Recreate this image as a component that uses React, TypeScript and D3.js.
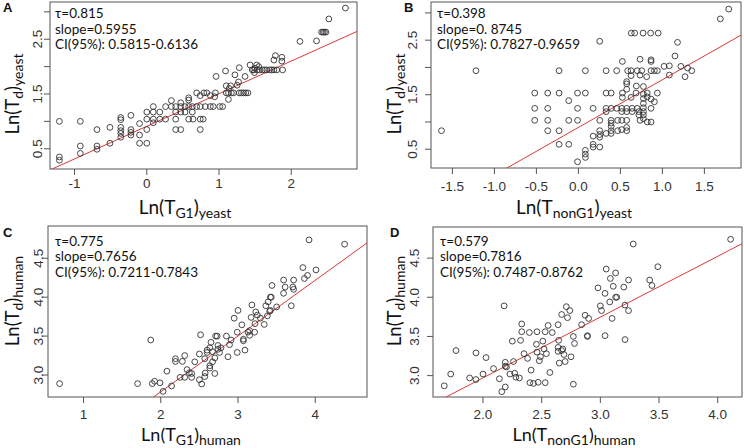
import React from "react";
import * as d3 from "d3";

// ---------- DATA ----------
const yeastG1Points: [number, number][] = [
  [-1.21,1.0],[-1.21,0.35],[-1.21,0.29],
  [-0.92,1.0],[-0.92,0.55],[-0.92,0.415],
  [-0.69,0.85],[-0.69,0.55],[-0.69,0.49],
  [-0.51,0.89],[-0.51,0.6],
  [-0.36,1.07],[-0.36,1.03],[-0.36,0.89],[-0.36,0.83],[-0.36,0.78],[-0.36,0.71],
  [-0.22,1.11],[-0.22,0.85],[-0.22,0.8],[-0.22,0.75],
  [-0.1,0.96],[-0.1,0.75],[-0.1,0.6],
  [0,1.17],[0,1.04],[0,0.85],[0,0.6],
  [0.09,1.27],[0.09,1.17],[0.09,1.04],[0.09,0.975],
  [0.18,1.04],[0.18,1.17],
  [0.26,1.27],[0.26,1.04],
  [0.34,1.38],[0.34,1.27],
  [0.4,1.27],[0.4,1.17],[0.4,1.04],[0.4,0.85],
  [0.47,1.34],[0.47,1.27],[0.47,1.17],[0.47,0.85],
  [0.53,1.27],[0.53,1.17],
  [0.58,1.43],[0.58,1.39],[0.58,1.27],[0.58,1.04],
  [0.63,1.27],[0.63,1.17],[0.64,1.04],
  [0.69,1.27],[0.69,1.52],
  [0.74,1.04],[0.74,0.85],[0.74,1.47],[0.74,1.27],
  [0.78,1.04],[0.79,1.52],[0.81,1.27],
  [0.83,1.52],[0.88,1.27],
  [0.88,1.47],[0.92,1.27],
  [0.94,1.45],[0.95,1.52],
  [0.96,1.82],
  [1.01,1.27],[1.05,1.27],
  [1.09,1.92],[1.1,1.65],[1.1,1.52],[1.13,1.4],[1.13,1.52],[1.14,1.6],[1.16,1.65],[1.17,1.52],[1.2,1.52],
  [1.22,1.85],[1.25,1.66],[1.27,1.72],[1.28,1.98],
  [1.28,1.52],[1.31,1.52],[1.34,1.52],[1.37,1.52],[1.4,1.52],
  [1.36,1.82],
  [1.43,2.03],[1.46,1.94],[1.48,1.94],[1.49,1.89],[1.5,1.97],[1.52,2.03],[1.53,1.94],[1.55,2.0],
  [1.56,1.94],[1.6,1.94],[1.63,1.94],[1.66,1.94],[1.7,1.94],[1.73,1.94],[1.76,1.94],[1.8,1.94],
  [1.76,2.12],[1.78,2.2],[1.87,2.17],[1.87,2.1],[1.88,1.94],
  [2.12,2.46],[2.35,2.47],
  [2.42,2.63],[2.44,2.63],[2.46,2.63],[2.48,2.63],
  [2.52,2.87],[2.75,3.07],
];

const yeastNonG1Points: [number, number][] = [
  [-1.63,0.84],[-1.22,1.94],
  [-0.52,1.53],[-0.52,1.25],[-0.52,1.03],
  [-0.365,1.53],[-0.365,1.25],[-0.365,1.03],[-0.365,0.84],
  [-0.23,1.94],[-0.23,1.53],[-0.23,0.84],[-0.23,0.59],
  [-0.115,1.39],[-0.115,1.03],[-0.115,0.59],
  [-0.01,1.53],[-0.01,1.25],[-0.01,1.03],[-0.01,0.27],
  [0.083,1.94],[0.083,1.53],[0.083,0.48],[0.083,0.41],[0.083,0.35],
  [0.175,1.25],[0.175,0.74],[0.175,0.59],[0.175,0.54],
  [0.254,2.48],[0.254,1.03],[0.254,0.84],[0.254,0.77],[0.254,0.72],[0.254,0.54],
  [0.33,1.94],[0.33,1.53],[0.33,1.25],[0.33,1.19],[0.33,0.79],
  [0.39,1.53],[0.39,1.25],[0.39,1.03],[0.39,0.98],[0.39,0.92],[0.39,0.84],[0.39,0.79],
  [0.456,1.94],[0.456,1.25],[0.468,1.03],[0.468,0.84],
  [0.516,1.25],[0.516,1.19],[0.516,1.03],[0.516,0.86],
  [0.524,2.11],[0.524,1.53],[0.524,1.45],
  [0.587,1.94],[0.575,1.25],[0.575,1.19],[0.575,1.03],[0.575,0.9],[0.575,0.84],[0.575,1.74],[0.575,1.7],[0.575,1.6],
  [0.627,1.94],[0.627,1.85],[0.64,1.25],[0.64,1.19],[0.627,1.45],
  [0.63,2.63],[0.67,2.63],[0.686,1.53],[0.69,1.66],[0.70,1.25],[0.70,1.94],[0.72,1.19],[0.72,1.13],
  [0.734,1.86],[0.734,1.03],[0.734,2.15],[0.754,1.94],
  [0.77,2.63],[0.774,1.65],[0.774,1.51],[0.774,1.43],[0.774,1.34],[0.774,1.26],[0.774,1.19],[0.774,1.13],[0.774,1.06],
  [0.813,1.83],[0.82,1.53],[0.82,1.46],[0.82,1.0],
  [0.86,2.63],[0.865,2.14],[0.865,2.11],[0.865,1.94],[0.865,1.42],[0.865,1.25],[0.865,1.0],
  [0.905,1.37],[0.905,1.94],
  [0.95,2.63],[0.94,1.94],[0.94,1.53],
  [1.02,2.02],[1.083,2.03],[1.083,1.86],[1.15,2.21],[1.18,2.46],[1.22,2.02],[1.27,1.83],[1.3,1.99],[1.35,1.94],
  [1.69,2.89],[1.79,3.07],
];

const humanG1Points: [number, number][] = [
  [0.69,2.89],[1.70,2.89],[1.87,3.45],[1.89,2.89],[1.92,2.92],[1.99,2.9],[2.03,2.79],[2.08,3.05],[2.14,2.86],
  [2.19,3.21],[2.19,3.175],[2.25,2.97],[2.28,3.175],[2.31,3.25],[2.31,2.97],[2.34,3.07],[2.37,3.03],[2.40,2.97],
  [2.40,3.02],[2.44,3.17],[2.50,3.27],[2.515,3.517],[2.50,2.94],[2.53,2.885],[2.57,2.98],[2.575,3.026],[2.57,3.21],
  [2.60,3.29],[2.60,3.32],[2.635,3.35],[2.635,3.12],[2.635,3.09],[2.65,3.42],[2.67,3.30],[2.67,3.17],[2.70,3.22],
  [2.71,3.50],[2.73,3.50],[2.70,3.02],[2.74,3.38],[2.74,3.33],[2.76,3.29],[2.78,3.35],[2.85,3.50],[2.87,3.235],
  [2.89,3.39],[2.91,3.45],[2.95,3.73],[2.99,3.29],[2.99,3.55],[3.0,3.83],[3.05,3.645],[3.07,3.44],[3.07,3.46],
  [3.09,3.32],[3.13,3.55],[3.15,3.51],[3.15,3.57],[3.17,3.74],[3.18,3.9],[3.215,3.55],[3.22,3.66],[3.23,3.81],
  [3.25,3.77],[3.29,3.73],[3.34,3.65],[3.36,3.89],[3.38,3.76],[3.39,3.94],[3.42,4.0],[3.43,4.0],[3.44,4.15],
  [3.41,3.82],[3.42,3.83],[3.50,3.875],[3.59,4.05],[3.59,4.22],[3.61,4.13],[3.69,3.89],[3.71,4.13],[3.72,4.22],
  [3.72,4.1],[3.84,4.38],[3.86,4.24],[3.90,4.28],[3.92,4.735],[4.01,4.35],[4.38,4.68],
];

const humanNonG1Points: [number, number][] = [
  [1.67,2.87],[1.725,3.02],[1.77,3.32],[1.886,2.97],[1.94,3.29],[1.94,2.95],[2.0,3.02],[2.026,3.23],[2.09,3.09],
  [2.14,2.96],[2.16,2.795],[2.18,3.89],[2.19,3.17],[2.19,3.12],[2.2,3.11],[2.19,2.855],[2.23,3.02],[2.25,3.44],
  [2.26,3.18],[2.27,3.03],[2.28,2.98],[2.31,2.97],[2.32,3.45],[2.33,3.66],[2.33,3.56],[2.35,3.28],[2.38,3.22],
  [2.395,3.55],[2.40,2.91],[2.41,3.07],[2.43,2.90],[2.455,3.40],[2.46,3.56],[2.46,3.30],[2.47,2.915],[2.48,3.19],
  [2.49,3.24],[2.51,3.44],[2.52,3.34],[2.53,3.56],[2.53,2.91],[2.54,3.28],[2.555,3.64],[2.57,3.04],[2.59,3.55],
  [2.64,3.65],[2.64,3.36],[2.64,3.31],[2.65,3.16],[2.645,3.45],[2.67,3.78],[2.67,3.32],[2.68,3.34],[2.69,3.27],
  [2.70,3.18],[2.71,3.88],[2.72,3.74],[2.74,3.83],[2.75,3.24],[2.77,2.89],[2.77,3.50],[2.78,3.41],[2.84,3.65],
  [2.87,3.77],[2.90,3.73],[2.89,3.51],[2.89,3.50],[2.98,4.12],[3.0,3.89],[3.01,3.83],[3.04,3.51],[3.04,4.05],
  [3.05,4.36],[3.085,4.24],[3.08,3.94],[3.13,4.31],[3.11,4.14],[3.13,4.0],[3.14,4.0],[3.10,3.73],[3.21,3.90],
  [3.21,3.46],[3.20,4.13],[3.24,4.22],[3.24,3.83],[3.28,4.68],[3.42,4.22],[3.44,4.15],[3.49,4.39],[4.11,4.74],
];

// fitted lines [intercept, slope]
const fitA = [0.91, 0.5955];
const fitB = [0.90, 0.8745];
const fitC = [1.353, 0.716];
const fitD = [1.419, 0.776];

const statsA = ["τ=0.815", "slope=0.5955", "CI(95%): 0.5815-0.6136"];
const statsB = ["τ=0.398", "slope=0. 8745", "CI(95%): 0.7827-0.9659"];
const statsC = ["τ=0.775", "slope=0.7656", "CI(95%): 0.7211-0.7843"];
const statsD = ["τ=0.579", "slope=0.7816", "CI(95%): 0.7487-0.8762"];

const xTicksA = [-1, 0, 1, 2];
const xLabelsA = ["-1", "0", "1", "2"];
const xTicksB = [-1.5, -1, -0.5, 0, 0.5, 1, 1.5];
const xLabelsB = ["-1.5", "-1.0", "-0.5", "0.0", "0.5", "1.0", "1.5"];
const xTicksC = [1, 2, 3, 4];
const xLabelsC = ["1", "2", "3", "4"];
const xTicksD = [2, 2.5, 3, 3.5, 4];
const xLabelsD = ["2.0", "2.5", "3.0", "3.5", "4.0"];
const yTicksYeast = [0.5, 1, 1.5, 2, 2.5, 3];
const yLabelsYeast = ["0.5", "", "1.5", "", "2.5", ""];
const yTicksHuman = [3, 3.5, 4, 4.5];
const yLabelsHuman = ["3.0", "3.5", "4.0", "4.5"];

const FONT_TEXT = "Lato, 'Open Sans', sans-serif";
const FONT_TICK = "'Liberation Sans', Arial, sans-serif";

type PanelProps = {
  letter: string;
  letterPos: [number, number];
  box: [number, number, number, number]; // x0,y0,x1,y1
  xDomain: [number, number];
  yDomain: [number, number];
  points: [number, number][];
  fit: number[];
  stats: string[];
  statsPos: [number, number];
  xTicks: number[];
  xLabels: string[];
  yTicks: number[];
  yLabels: string[];
  xTickBase: number;
  yTickBase: number;
  xTitleSub: string;
  organism: string;
  xTitlePos: [number, number];
  xTitleSize: number;
  yTitlePos: [number, number];
  id: string;
};

function Panel(p: PanelProps) {
  const [x0, y0, x1, y1] = p.box;
  const xs = d3.scaleLinear().domain(p.xDomain).range([x0, x1]);
  const ys = d3.scaleLinear().domain(p.yDomain).range([y1, y0]);
  const line = d3
    .line<number>()
    .x((v) => xs(v))
    .y((v) => ys(p.fit[0] + p.fit[1] * v));
  const lx = [p.xDomain[0], p.xDomain[1]];
  return (
    <g>
      <defs>
        <clipPath id={"clip" + p.id}>
          <rect x={x0} y={y0} width={x1 - x0} height={y1 - y0} />
        </clipPath>
      </defs>
      <rect x={x0} y={y0} width={x1 - x0} height={y1 - y0} fill="none" stroke="#555" strokeWidth={1} />
      <g clipPath={`url(#clip${p.id})`}>
        <path d={line(lx) || ""} stroke="#d93a3a" strokeWidth={1} fill="none" />
        {p.points.map((d, i) => (
          <circle key={i} cx={xs(d[0])} cy={ys(d[1])} r={2.9} fill="none" stroke="#333" strokeWidth={0.9} />
        ))}
      </g>
      {/* x axis */}
      {p.xTicks.map((t, i) => (
        <g key={"xt" + i}>
          <line x1={xs(t)} x2={xs(t)} y1={y1} y2={y1 + 6} stroke="#555" />
          <text x={xs(t)} y={p.xTickBase} textAnchor="middle" fontFamily={FONT_TICK} fontSize={13.5} fill="#333">
            {p.xLabels[i]}
          </text>
        </g>
      ))}
      {/* y axis */}
      {p.yTicks.map((t, i) => (
        <g key={"yt" + i}>
          <line x1={x0 - 6} x2={x0} y1={ys(t)} y2={ys(t)} stroke="#555" />
          {p.yLabels[i] && (
            <text
              transform={`translate(${p.yTickBase},${ys(t)}) rotate(-90)`}
              textAnchor="middle"
              fontFamily={FONT_TICK}
              fontSize={13.5}
              fill="#333"
            >
              {p.yLabels[i]}
            </text>
          )}
        </g>
      ))}
      {/* stats */}
      {p.stats.map((s, i) => (
        <text key={"s" + i} x={p.statsPos[0]} y={p.statsPos[1] + i * 15.6} fontFamily={FONT_TEXT} fontSize={13.5} fill="#111">
          {s}
        </text>
      ))}
      {/* titles */}
      <text x={p.xTitlePos[0]} y={p.xTitlePos[1]} textAnchor="middle" fontFamily={FONT_TEXT} fontSize={p.xTitleSize} fill="#111">
        Ln(T
        <tspan baselineShift="-25%" fontSize={14}>{p.xTitleSub}</tspan>
        <tspan>)</tspan>
        <tspan baselineShift="-25%" fontSize={14}>{p.organism}</tspan>
      </text>
      <text
        transform={`translate(${p.yTitlePos[0]},${p.yTitlePos[1]}) rotate(-90)`}
        textAnchor="middle"
        fontFamily={FONT_TEXT}
        fontSize={18.5}
        fill="#111"
      >
        Ln(T
        <tspan baselineShift="-25%" fontSize={14}>d</tspan>
        <tspan>)</tspan>
        <tspan baselineShift="-25%" fontSize={14}>{p.organism}</tspan>
      </text>
      <text x={p.letterPos[0]} y={p.letterPos[1]} fontFamily={FONT_TICK} fontWeight="bold" fontSize={13} fill="#111">
        {p.letter}
      </text>
    </g>
  );
}

export default function App() {
  return (
    <svg width={744} height={448} style={{ position: "absolute", left: 0, top: 0, background: "#fff" }}>
      <rect width={744} height={448} fill="#fff" />
      <Panel
        id="A"
        letter="A"
        letterPos={[3, 12]}
        box={[50, 2, 357, 169]}
        xDomain={[-1.34, 2.91]}
        yDomain={[0.13, 3.18]}
        points={yeastG1Points}
        fit={fitA}
        stats={statsA}
        statsPos={[55, 18]}
        xTicks={xTicksA}
        xLabels={xLabelsA}
        yTicks={yTicksYeast}
        yLabels={yLabelsYeast}
        xTickBase={188}
        yTickBase={42}
        xTitleSub="G1"
        organism="yeast"
        xTitlePos={[185, 214]}
        xTitleSize={19}
        yTitlePos={[19, 94]}
      />
      <Panel
        id="B"
        letter="B"
        letterPos={[404, 12]}
        box={[431, 2, 741, 168]}
        xDomain={[-1.755, 1.936]}
        yDomain={[0.156, 3.2]}
        points={yeastNonG1Points}
        fit={fitB}
        stats={statsB}
        statsPos={[437, 18]}
        xTicks={xTicksB}
        xLabels={xLabelsB}
        yTicks={yTicksYeast}
        yLabels={yLabelsYeast}
        xTickBase={191}
        yTickBase={417}
        xTitleSub="nonG1"
        organism="yeast"
        xTitlePos={[574, 214]}
        xTitleSize={19}
        yTitlePos={[401, 94]}
      />
      <Panel
        id="C"
        letter="C"
        letterPos={[3, 237]}
        box={[48, 226, 367, 397]}
        xDomain={[0.54, 4.67]}
        yDomain={[2.718, 4.914]}
        points={humanG1Points}
        fit={fitC}
        stats={statsC}
        statsPos={[55, 245.5]}
        xTicks={xTicksC}
        xLabels={xLabelsC}
        yTicks={yTicksHuman}
        yLabels={yLabelsHuman}
        xTickBase={419}
        yTickBase={43}
        xTitleSub="G1"
        organism="human"
        xTitlePos={[191, 441]}
        xTitleSize={18}
        yTitlePos={[19, 301]}
      />
      <Panel
        id="D"
        letter="D"
        letterPos={[390, 237]}
        box={[433, 227, 742, 397]}
        xDomain={[1.574, 4.207]}
        yDomain={[2.727, 4.897]}
        points={humanNonG1Points}
        fit={fitD}
        stats={statsD}
        statsPos={[440, 245.5]}
        xTicks={xTicksD}
        xLabels={xLabelsD}
        yTicks={yTicksHuman}
        yLabels={yLabelsHuman}
        xTickBase={419}
        yTickBase={419}
        xTitleSub="nonG1"
        organism="human"
        xTitlePos={[574, 441]}
        xTitleSize={18}
        yTitlePos={[401, 301]}
      />
    </svg>
  );
}
